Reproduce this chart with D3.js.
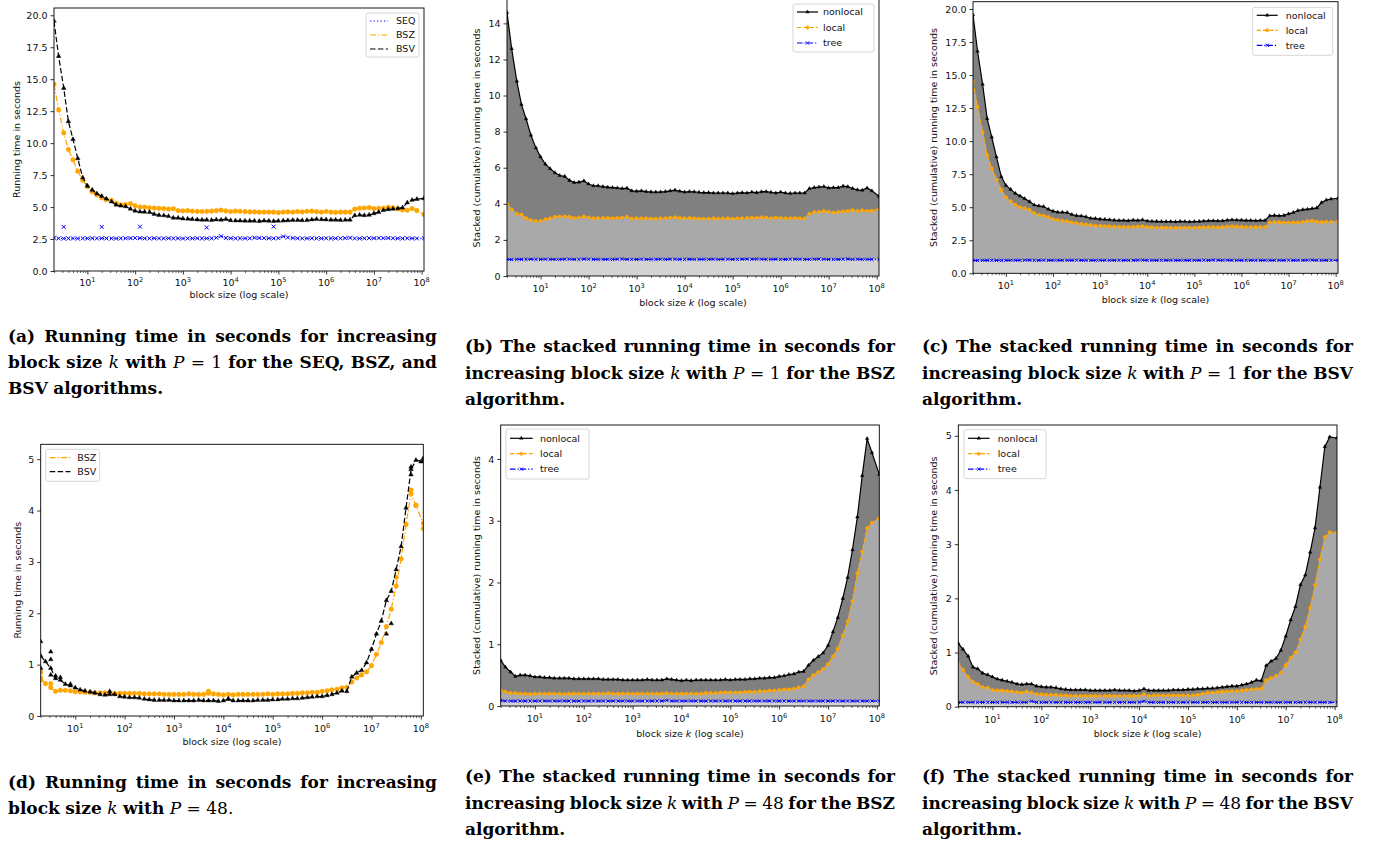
<!DOCTYPE html>
<html>
<head>
<meta charset="utf-8">
<script src="https://cdn.jsdelivr.net/npm/d3@7"></script>
<style>
  body { margin: 0; background: #fff; }
  svg text { font-family: "DejaVu Sans", sans-serif; }
</style>
</head>
<body>
<svg id="fig" width="1375" height="846"></svg>
<script>
// block sizes k (x positions of every measurement)
const blockSizes = [
  2, 2.5, 3.2, 4, 5, 6.3, 8, 10, 12.6, 15.8,
  20, 25, 32, 40, 50, 63, 80, 100, 126, 158,
  200, 251, 316, 398, 501, 631, 794, 1e3, 1.26e3, 1.58e3,
  2e3, 2.51e3, 3.16e3, 3.98e3, 5.01e3, 6.31e3, 7.94e3, 1e4, 1.26e4, 1.58e4,
  2e4, 2.51e4, 3.16e4, 3.98e4, 5.01e4, 6.31e4, 7.94e4, 1e5, 1.26e5, 1.58e5,
  2e5, 2.51e5, 3.16e5, 3.98e5, 5.01e5, 6.31e5, 7.94e5, 1e6, 1.26e6, 1.58e6,
  2e6, 2.51e6, 3.16e6, 3.98e6, 5.01e6, 6.31e6, 7.94e6, 1e7, 1.26e7, 1.58e7,
  2e7, 2.51e7, 3.16e7, 3.98e7, 5.01e7, 6.31e7, 7.94e7, 1.12e8
];

// (a) sequential baseline, P = 1
const seqTime = [
  2.6, 2.55, 2.54, 2.55, 2.55, 2.54, 2.55, 2.55, 2.56, 2.55,
  2.56, 2.55, 2.55, 2.54, 2.55, 2.56, 2.57, 2.58, 2.57, 2.55,
  2.55, 2.56, 2.55, 2.55, 2.56, 2.55, 2.55, 2.54, 2.55, 2.55,
  2.56, 2.55, 2.55, 2.56, 2.6, 2.72, 2.58, 2.56, 2.55, 2.55,
  2.55, 2.56, 2.6, 2.58, 2.57, 2.56, 2.55, 2.57, 2.7, 2.62,
  2.58, 2.56, 2.55, 2.55, 2.56, 2.55, 2.55, 2.56, 2.55, 2.55,
  2.56, 2.57, 2.6, 2.55, 2.55, 2.56, 2.57, 2.56, 2.58, 2.57,
  2.58, 2.56, 2.55, 2.55, 2.56, 2.55, 2.55, 2.56
];
const seqOutlierK = [3.2, 20, 126, 3160, 79400];
const seqOutlierTime = [3.45, 3.45, 3.47, 3.4, 3.47];

// BSZ, P = 1 : cumulative levels (tree, tree+local, tree+local+nonlocal)
const bszP1Tree = [
  0.92, 0.91, 0.92, 0.92, 0.92, 0.93, 0.92, 0.92, 0.93, 0.92,
  0.92, 0.92, 0.93, 0.93, 0.92, 0.92, 0.94, 0.93, 0.92, 0.92,
  0.92, 0.92, 0.92, 0.93, 0.94, 0.92, 0.92, 0.92, 0.93, 0.92,
  0.92, 0.92, 0.93, 0.92, 0.93, 0.93, 0.92, 0.92, 0.93, 0.92,
  0.92, 0.92, 0.92, 0.93, 0.92, 0.92, 0.93, 0.92, 0.92, 0.93,
  0.94, 0.93, 0.94, 0.93, 0.92, 0.92, 0.93, 0.92, 0.92, 0.93,
  0.93, 0.93, 0.92, 0.92, 0.93, 0.94, 0.93, 0.92, 0.92, 0.92,
  0.93, 0.94, 0.92, 0.93, 0.92, 0.92, 0.92, 0.92
];
const bszP1Local = [
  4.0, 3.7, 3.45, 3.4, 3.2, 3.1, 3.05, 3.05, 3.15, 3.2,
  3.28, 3.3, 3.3, 3.28, 3.22, 3.25, 3.3, 3.24, 3.2, 3.22,
  3.22, 3.22, 3.2, 3.22, 3.24, 3.28, 3.18, 3.2, 3.2, 3.2,
  3.18, 3.18, 3.2, 3.2, 3.24, 3.26, 3.22, 3.2, 3.22, 3.2,
  3.18, 3.18, 3.18, 3.2, 3.18, 3.2, 3.2, 3.18, 3.2, 3.2,
  3.22, 3.24, 3.22, 3.26, 3.24, 3.2, 3.24, 3.22, 3.2, 3.2,
  3.22, 3.2, 3.2, 3.45, 3.55, 3.55, 3.6, 3.56, 3.52, 3.55,
  3.58, 3.6, 3.66, 3.6, 3.64, 3.6, 3.62, 3.72
];
const bszP1Total = [
  14.6, 12.6, 10.8, 9.5, 8.7, 7.8, 7.1, 6.6, 6.2, 5.95,
  5.72, 5.57, 5.52, 5.3, 5.18, 5.2, 5.27, 5.1, 5.0, 5.0,
  4.95, 4.92, 4.9, 4.88, 4.85, 4.87, 4.72, 4.7, 4.72, 4.68,
  4.66, 4.65, 4.66, 4.68, 4.72, 4.76, 4.7, 4.65, 4.68, 4.67,
  4.64, 4.62, 4.62, 4.6, 4.6, 4.6, 4.6, 4.57, 4.6, 4.62,
  4.6, 4.65, 4.62, 4.67, 4.68, 4.64, 4.6, 4.65, 4.6, 4.58,
  4.6, 4.6, 4.6, 4.85, 4.9, 4.93, 4.96, 4.88, 4.9, 4.9,
  4.98, 4.95, 4.85, 4.78, 4.75, 4.88, 4.72, 4.42
];

// BSV, P = 1
const bsvP1Tree = [
  0.98, 0.97, 0.98, 0.98, 0.98, 0.98, 0.97, 0.98, 0.98, 0.98,
  0.98, 0.99, 0.99, 0.98, 0.98, 0.99, 0.98, 0.98, 0.98, 0.98,
  0.98, 0.98, 0.99, 0.98, 0.98, 0.98, 0.98, 0.98, 0.98, 0.98,
  0.98, 0.98, 0.98, 0.98, 0.98, 0.99, 1.0, 0.98, 0.98, 0.98,
  0.98, 0.98, 0.98, 0.98, 0.98, 0.98, 0.98, 0.98, 0.98, 0.99,
  0.98, 1.0, 0.99, 0.98, 0.99, 0.98, 0.98, 0.98, 0.98, 0.98,
  0.98, 0.98, 0.98, 0.98, 0.98, 0.98, 0.98, 0.99, 0.98, 0.98,
  0.98, 0.99, 1.0, 0.98, 0.98, 0.98, 0.98, 0.98
];
const bsvP1Local = [
  14.5, 12.6, 10.7, 8.95, 7.95, 7.1, 6.3, 5.75, 5.45, 5.2,
  5.0, 4.92, 4.8, 4.55, 4.42, 4.36, 4.26, 4.1, 4.04, 3.98,
  3.95, 3.85, 3.8, 3.74, 3.7, 3.65, 3.6, 3.6, 3.57, 3.56,
  3.54, 3.52, 3.5, 3.5, 3.52, 3.55, 3.56, 3.5, 3.48, 3.46,
  3.47, 3.46, 3.45, 3.45, 3.46, 3.46, 3.45, 3.46, 3.47, 3.48,
  3.5, 3.5, 3.48, 3.5, 3.54, 3.56, 3.54, 3.52, 3.5, 3.5,
  3.5, 3.5, 3.5, 3.85, 3.88, 3.86, 3.84, 3.85, 3.84, 3.85,
  3.88, 3.95, 3.98, 3.9, 3.88, 3.9, 3.88, 3.95
];
const bsvP1Total = [
  19.55, 16.8, 14.3, 11.7, 10.3, 8.8, 7.3, 6.65, 6.35, 6.05,
  5.85, 5.65, 5.42, 5.17, 5.1, 5.05, 4.85, 4.7, 4.63, 4.62,
  4.6, 4.45, 4.36, 4.34, 4.28, 4.16, 4.15, 4.1, 4.08, 4.05,
  4.02, 4.0, 4.0, 3.98, 4.02, 4.0, 4.05, 3.96, 3.94, 3.93,
  3.92, 3.92, 3.92, 3.9, 3.93, 3.92, 3.9, 3.92, 3.93, 3.95,
  3.97, 3.98, 3.96, 3.97, 4.02, 4.05, 4.03, 4.02, 4.0, 4.0,
  3.98, 4.0, 4.0, 4.35, 4.38, 4.35, 4.38, 4.5, 4.6, 4.75,
  4.82, 4.85, 4.9, 4.95, 5.35, 5.55, 5.62, 5.68
];

// BSZ, P = 48
const bszP48Tree = [
  0.09, 0.08, 0.08, 0.08, 0.08, 0.08, 0.08, 0.08, 0.08, 0.08,
  0.08, 0.08, 0.08, 0.08, 0.08, 0.08, 0.08, 0.08, 0.08, 0.08,
  0.08, 0.08, 0.08, 0.08, 0.08, 0.08, 0.08, 0.08, 0.08, 0.08,
  0.08, 0.08, 0.08, 0.08, 0.09, 0.08, 0.08, 0.08, 0.08, 0.08,
  0.08, 0.08, 0.08, 0.08, 0.08, 0.08, 0.08, 0.08, 0.08, 0.08,
  0.08, 0.08, 0.08, 0.08, 0.08, 0.08, 0.08, 0.08, 0.08, 0.08,
  0.08, 0.08, 0.08, 0.08, 0.08, 0.08, 0.08, 0.08, 0.08, 0.08,
  0.08, 0.08, 0.08, 0.08, 0.08, 0.08, 0.08, 0.08
];
const bszP48Local = [
  0.26, 0.23, 0.21, 0.21, 0.2, 0.2, 0.19, 0.2, 0.2, 0.2,
  0.2, 0.2, 0.2, 0.19, 0.2, 0.2, 0.2, 0.2, 0.2, 0.2,
  0.2, 0.2, 0.21, 0.2, 0.2, 0.2, 0.2, 0.2, 0.2, 0.2,
  0.2, 0.2, 0.2, 0.2, 0.21, 0.2, 0.2, 0.2, 0.2, 0.2,
  0.2, 0.2, 0.21, 0.21, 0.21, 0.22, 0.22, 0.22, 0.22, 0.22,
  0.23, 0.23, 0.23, 0.24, 0.24, 0.25, 0.25, 0.26, 0.27, 0.27,
  0.28, 0.3, 0.32, 0.43, 0.5, 0.55, 0.6, 0.68, 0.8, 0.93,
  1.14, 1.37, 1.7, 2.15, 2.5, 2.88, 2.97, 3.04
];
const bszP48Total = [
  0.74, 0.63, 0.55, 0.48, 0.5, 0.5, 0.49, 0.47, 0.47, 0.46,
  0.46, 0.45, 0.45, 0.45, 0.45, 0.44, 0.44, 0.44, 0.44, 0.44,
  0.44, 0.43, 0.43, 0.43, 0.43, 0.42, 0.42, 0.42, 0.42, 0.42,
  0.43, 0.42, 0.42, 0.42, 0.44, 0.43, 0.42, 0.41, 0.42, 0.41,
  0.42, 0.42, 0.42, 0.42, 0.42, 0.42, 0.43, 0.42, 0.43, 0.43,
  0.43, 0.44, 0.44, 0.45, 0.45, 0.46, 0.46, 0.48, 0.49, 0.51,
  0.52, 0.55, 0.56, 0.66, 0.74, 0.8, 0.86, 0.98, 1.2, 1.43,
  1.74, 2.08, 2.53, 3.06, 3.73, 4.33, 4.1, 3.75
];

// BSV, P = 48
const bsvP48Tree = [
  0.08, 0.08, 0.08, 0.08, 0.08, 0.08, 0.08, 0.08, 0.08, 0.08,
  0.08, 0.08, 0.08, 0.08, 0.08, 0.1, 0.08, 0.08, 0.08, 0.08,
  0.08, 0.08, 0.08, 0.08, 0.08, 0.08, 0.08, 0.08, 0.08, 0.08,
  0.08, 0.08, 0.08, 0.08, 0.08, 0.08, 0.08, 0.08, 0.1, 0.08,
  0.08, 0.08, 0.08, 0.08, 0.08, 0.08, 0.08, 0.08, 0.08, 0.08,
  0.08, 0.08, 0.08, 0.08, 0.08, 0.08, 0.08, 0.08, 0.08, 0.08,
  0.08, 0.08, 0.08, 0.08, 0.08, 0.08, 0.08, 0.08, 0.08, 0.08,
  0.08, 0.08, 0.08, 0.08, 0.08, 0.08, 0.08, 0.08
];
const bsvP48Local = [
  0.8, 0.68, 0.55, 0.46, 0.42, 0.36, 0.35, 0.31, 0.3, 0.3,
  0.29, 0.28, 0.27, 0.26, 0.28, 0.26, 0.23, 0.23, 0.22, 0.22,
  0.22, 0.21, 0.21, 0.2, 0.2, 0.2, 0.2, 0.2, 0.2, 0.2,
  0.2, 0.2, 0.2, 0.2, 0.2, 0.2, 0.2, 0.2, 0.23, 0.2,
  0.21, 0.21, 0.21, 0.21, 0.21, 0.21, 0.21, 0.21, 0.21, 0.22,
  0.24, 0.26, 0.26, 0.27, 0.28, 0.28, 0.29, 0.29, 0.3, 0.31,
  0.32, 0.33, 0.33, 0.49, 0.53, 0.57, 0.63, 0.77, 0.9, 1.0,
  1.24, 1.48, 1.82, 2.25, 2.72, 3.13, 3.22, 3.22
];
const bsvP48Total = [
  1.17, 1.06, 0.93, 0.73, 0.7, 0.62, 0.59, 0.55, 0.51, 0.49,
  0.47, 0.45, 0.42, 0.41, 0.42, 0.42, 0.38, 0.37, 0.36, 0.36,
  0.35, 0.33, 0.32, 0.31, 0.31, 0.31, 0.31, 0.3, 0.3, 0.3,
  0.3, 0.3, 0.31, 0.3, 0.3, 0.3, 0.29, 0.3, 0.33, 0.3,
  0.3, 0.3, 0.3, 0.3, 0.31, 0.31, 0.31, 0.32, 0.32, 0.33,
  0.33, 0.34, 0.34, 0.35, 0.36, 0.37, 0.38, 0.38, 0.4, 0.42,
  0.45, 0.49, 0.48, 0.76, 0.84, 0.89, 1.04, 1.3, 1.6, 1.85,
  2.25, 2.43, 2.85, 3.3, 4.05, 4.8, 4.98, 4.96
];

// (d) single repetitions that stand apart from the mean
const bsvP48RunK = [2, 2, 3.2, 3.2, 3.2, 4, 5, 8, 50, 1.26e4, 2e7, 2.51e7, 6.31e7, 6.31e7, 1e8, 1.12e8];
const bsvP48RunTime = [1.45, 0.93, 1.25, 1.1, 0.8, 0.78, 0.75, 0.62, 0.48, 0.33, 1.6, 1.8, 4.7, 4.85, 4.95, 5.02];
const bszP48RunK = [2, 2, 3.2, 5.01e3, 3.16e7, 6.31e7, 7.94e7, 1.12e8];
const bszP48RunTime = [0.7, 0.85, 0.63, 0.48, 2.7, 4.4, 4.1, 3.65];

const ORANGE = '#ffa500', BLUE = '#0000ff', BLACK = '#000000';
const svg = d3.select('#fig');
svg.append('rect').attr('width', 1375).attr('height', 846).attr('fill', '#fff');

function line(g, xs, ys, x, y, color, dash, w) {
  g.append('path').datum(ys)
    .attr('d', d3.line().x((d, i) => x(xs[i])).y(d => y(d)))
    .attr('fill', 'none').attr('stroke', color)
    .attr('stroke-width', w || 1.2).attr('stroke-dasharray', dash || null);
}
function markers(g, xs, ys, x, y, type, size, color) {
  const stroked = type === d3.symbolTimes;
  g.append('g').selectAll('path').data(xs).join('path')
    .attr('transform', (d, i) => `translate(${x(d)},${y(ys[i])})`)
    .attr('d', d3.symbol().type(type).size(size))
    .attr('fill', stroked ? 'none' : color)
    .attr('stroke', color).attr('stroke-width', stroked ? 1 : 0.4);
}

function drawLines(g, x, y, p) {
  if (p.seq) {
    line(g, blockSizes, seqTime, x, y, BLUE, '1.3,2.2');
    markers(g, blockSizes, seqTime, x, y, d3.symbolTimes, 12, BLUE);
    markers(g, seqOutlierK, seqOutlierTime, x, y, d3.symbolTimes, 12, BLUE);
  }
  line(g, blockSizes, p.bsz, x, y, ORANGE, '6,2,1.3,2');
  markers(g, blockSizes, p.bsz, x, y, d3.symbolCircle, 17, ORANGE);
  if (p.bszRuns) markers(g, p.bszRuns[0], p.bszRuns[1], x, y, d3.symbolCircle, 17, ORANGE);
  line(g, blockSizes, p.bsv, x, y, BLACK, '5.5,2.4');
  markers(g, blockSizes, p.bsv, x, y, d3.symbolTriangle, 9, BLACK);
  if (p.bsvRuns) markers(g, p.bsvRuns[0], p.bsvRuns[1], x, y, d3.symbolTriangle, 9, BLACK);
}

function drawStacked(g, x, y, p) {
  const band = (lo, hi, fill) => g.append('path').datum(hi)
    .attr('d', d3.area().x((d, i) => x(blockSizes[i])).y0((d, i) => y(lo ? lo[i] : 0)).y1(d => y(d)))
    .attr('fill', fill);
  band(null, p.tree, '#d3d3d3');
  band(p.tree, p.local, '#a9a9a9');
  band(p.local, p.total, '#808080');
  line(g, blockSizes, p.total, x, y, BLACK, null, 1.2);
  markers(g, blockSizes, p.total, x, y, d3.symbolTriangle, 5.5, BLACK);
  line(g, blockSizes, p.local, x, y, ORANGE, '4.4,1.9', 1.2);
  markers(g, blockSizes, p.local, x, y, d3.symbolCircle, 9, ORANGE);
  line(g, blockSizes, p.tree, x, y, BLUE, '5.6,1.9,1.2,1.9', 1.2);
  markers(g, blockSizes, p.tree, x, y, d3.symbolTimes, 8, BLUE);
}

const stackedLegend = [
  { label: 'nonlocal', color: BLACK, dash: null, sym: d3.symbolTriangle, size: 5.5 },
  { label: 'local', color: ORANGE, dash: '4.4,1.9', sym: d3.symbolCircle, size: 9 },
  { label: 'tree', color: BLUE, dash: '5.6,1.9,1.2,1.9', sym: d3.symbolTimes, size: 8 }
];
const stackTicks = (n, step) => d3.range(0, n + step / 2, step);

const panels = [
  { key: 'a', kind: 'lines', box: [54, 424, 8, 271], yMax: 20.57, yTicks: stackTicks(20, 2.5), fmt: '.1f',
    seq: true, bsz: bszP1Total, bsv: bsvP1Total, ylabel: 'Running time in seconds', stackedLabel: false,
    xlabY: 295, ylabX: 17, tickY: 15,
    legend: { x: 366, y: 13, w: 53, h: 44, top: 8, step: 14, hw: 18, tx: 30,
      items: [{ label: 'SEQ', color: BLUE, dash: '1.3,2.2' }, { label: 'BSZ', color: ORANGE, dash: '6,2,1.3,2' }, { label: 'BSV', color: BLACK, dash: '5.5,2.4' }] } },
  { key: 'b', kind: 'stacked', box: [507, 879, -1, 276], yMax: 15.35, yTicks: stackTicks(14, 2), fmt: 'd',
    tree: bszP1Tree, local: bszP1Local, total: bszP1Total, stackedLabel: true,
    xlabY: 303, ylabX: 477, tickY: 16,
    legend: { x: 793, y: 4, w: 81, h: 48, top: 8, step: 15.5, hw: 21, tx: 30, items: stackedLegend } },
  { key: 'c', kind: 'stacked', box: [973, 1338, 1.7, 273.3], yMax: 20.55, yTicks: stackTicks(20, 2.5), fmt: '.1f',
    tree: bsvP1Tree, local: bsvP1Local, total: bsvP1Total, stackedLabel: true,
    xlabY: 300, ylabX: 934, tickY: 16,
    legend: { x: 1252.7, y: 7.3, w: 80, h: 48, top: 8, step: 15, hw: 21, tx: 33, items: stackedLegend } },
  { key: 'd', kind: 'lines', box: [40.7, 423.3, 444.3, 716], yMax: 5.29, yTicks: stackTicks(5, 1), fmt: 'd',
    seq: false, bsz: bszP48Total, bsv: bsvP48Total, bszRuns: [bszP48RunK, bszP48RunTime], bsvRuns: [bsvP48RunK, bsvP48RunTime],
    ylabel: 'Running time in seconds', stackedLabel: false,
    xlabY: 741.7, ylabX: 18, tickY: 16,
    legend: { x: 45.7, y: 449.3, w: 54, h: 32, top: 8.4, step: 14, hw: 20.7, tx: 31.6,
      items: [{ label: 'BSZ', color: ORANGE, dash: '6,2,1.3,2' }, { label: 'BSV', color: BLACK, dash: '5.5,2.4' }] } },
  { key: 'e', kind: 'stacked', box: [500.7, 879.3, 425, 706], yMax: 4.55, yTicks: stackTicks(4, 1), fmt: 'd',
    tree: bszP48Tree, local: bszP48Local, total: bszP48Total, stackedLabel: true,
    xlabY: 734, ylabX: 476.7, tickY: 16,
    legend: { x: 506, y: 429, w: 83, h: 50, top: 9.3, step: 15.4, hw: 22.7, tx: 34, items: stackedLegend } },
  { key: 'f', kind: 'stacked', box: [958.3, 1337, 425, 706.7], yMax: 5.2, yTicks: stackTicks(5, 1), fmt: 'd',
    tree: bsvP48Tree, local: bsvP48Local, total: bsvP48Total, stackedLabel: true,
    xlabY: 734, ylabX: 934, tickY: 16,
    legend: { x: 964, y: 429.7, w: 82, h: 49, top: 8.6, step: 15.4, hw: 21.6, tx: 33.7, items: stackedLegend } }
];

function drawPanel(p) {
  const [L, R, T, B] = p.box;
  const x = d3.scaleLog().domain([2, 1.12e8]).range([L, R]);
  const y = d3.scaleLinear().domain([0, p.yMax]).range([B, T]);
  const g = svg.append('g');

  svg.append('clipPath').attr('id', 'clip-' + p.key)
    .append('rect').attr('x', L).attr('y', T).attr('width', R - L).attr('height', B - T);
  const plot = g.append('g').attr('clip-path', `url(#clip-${p.key})`);
  if (p.kind === 'stacked') drawStacked(plot, x, y, p); else drawLines(plot, x, y, p);

  // x axis: minor and major ticks of the log scale
  const majors = d3.range(1, 9).map(e => Math.pow(10, e));
  const minors = [];
  d3.range(0, 9).forEach(e => d3.range(2, 10).forEach(m => {
    const v = m * Math.pow(10, e);
    if (v >= 2 && v <= 1.12e8) minors.push(v);
  }));
  g.append('g').attr('transform', `translate(0,${B})`)
    .call(d3.axisBottom(x).tickValues(minors).tickSize(2).tickSizeOuter(0).tickFormat(''))
    .call(a => a.select('.domain').remove())
    .selectAll('line').attr('stroke-width', 0.6);
  g.append('g').attr('transform', `translate(0,${B})`)
    .call(d3.axisBottom(x).tickValues(majors).tickSize(3.5).tickSizeOuter(0).tickFormat(''))
    .call(a => a.select('.domain').remove())
    .selectAll('line').attr('stroke-width', 0.8);
  majors.forEach((v, i) => {
    const t = g.append('text').attr('x', x(v)).attr('y', B + p.tickY)
      .attr('text-anchor', 'middle').attr('font-size', 9.5).attr('fill', '#111');
    t.append('tspan').text('10');
    t.append('tspan').attr('font-size', 6.7).attr('dy', -4.2).text(i + 1);
  });

  // y axis
  g.append('g').attr('transform', `translate(${L},0)`)
    .call(d3.axisLeft(y).tickValues(p.yTicks).tickSize(3.5).tickSizeOuter(0).tickPadding(3).tickFormat(d3.format(p.fmt)))
    .call(a => a.select('.domain').remove())
    .call(a => a.selectAll('line').attr('stroke-width', 0.8))
    .call(a => a.selectAll('text').attr('font-family', 'DejaVu Sans').attr('font-size', 9.5).attr('fill', '#111'));

  g.append('rect').attr('x', L).attr('y', T).attr('width', R - L).attr('height', B - T)
    .attr('fill', 'none').attr('stroke', '#000').attr('stroke-width', 0.9);

  // axis labels
  const xl = g.append('text').attr('x', (L + R) / 2).attr('y', p.xlabY).attr('dy', '0.35em')
    .attr('text-anchor', 'middle').attr('font-size', 9.5).attr('fill', '#111');
  if (p.stackedLabel) {
    xl.append('tspan').text('block size ');
    xl.append('tspan').attr('font-style', 'italic').text('k');
    xl.append('tspan').text(' (log scale)');
  } else {
    xl.text('block size (log scale)');
  }
  g.append('text').attr('transform', `translate(${p.ylabX},${(Math.max(T, 0) + B) / 2}) rotate(-90)`)
    .attr('dy', '0.35em').attr('text-anchor', 'middle').attr('font-size', 9.5).attr('fill', '#111')
    .text(p.stackedLabel ? 'Stacked (cumulative) running time in seconds' : p.ylabel);

  // legend
  const lg = p.legend;
  const leg = g.append('g');
  leg.append('rect').attr('x', lg.x).attr('y', lg.y).attr('width', lg.w).attr('height', lg.h)
    .attr('rx', 2).attr('fill', '#fff').attr('fill-opacity', 0.8).attr('stroke', '#cccccc').attr('stroke-width', 0.8);
  lg.items.forEach((it, i) => {
    const cy = lg.y + lg.top + i * lg.step;
    const x0 = lg.x + 4;
    leg.append('line').attr('x1', x0).attr('x2', x0 + lg.hw).attr('y1', cy).attr('y2', cy)
      .attr('stroke', it.color).attr('stroke-width', 1.2).attr('stroke-dasharray', it.dash);
    if (it.sym) {
      const stroked = it.sym === d3.symbolTimes;
      leg.append('path').attr('transform', `translate(${x0 + lg.hw / 2},${cy})`)
        .attr('d', d3.symbol().type(it.sym).size(it.size))
        .attr('fill', stroked ? 'none' : it.color).attr('stroke', it.color).attr('stroke-width', stroked ? 1 : 0.4);
    }
    leg.append('text').attr('x', lg.x + lg.tx).attr('y', cy).attr('dy', '0.35em')
      .attr('font-size', 9.5).attr('fill', '#111').text(it.label);
  });
}

panels.forEach(drawPanel);

// sub-figure captions (justified, bold serif with italic math)
const captions = [
  { x: 8, y: 341.7, w: 429, lines: ['(a) Running time in seconds for increasing', 'block size _k with _P ~= ~1 for the SEQ, BSZ, and', 'BSV algorithms.'] },
  { x: 465, y: 352.3, w: 430, lines: ['(b) The stacked running time in seconds for', 'increasing block size _k with _P ~= ~1 for the BSZ', 'algorithm.'] },
  { x: 922, y: 352.3, w: 431, lines: ['(c) The stacked running time in seconds for', 'increasing block size _k with _P ~= ~1 for the BSV', 'algorithm.'] },
  { x: 8, y: 788, w: 429, lines: ['(d) Running time in seconds for increasing', 'block size _k with _P ~= ~48.'] },
  { x: 465, y: 782.3, w: 430, lines: ['(e) The stacked running time in seconds for', 'increasing block size _k with _P ~= ~48 for the BSZ', 'algorithm.'] },
  { x: 922, y: 782.3, w: 431, lines: ['(f) The stacked running time in seconds for', 'increasing block size _k with _P ~= ~48 for the BSV', 'algorithm.'] }
];

function caption(c) {
  const g = svg.append('g').attr('fill', '#000');
  let fs = 17;
  const build = () => {
    g.selectAll('*').remove();
    return c.lines.map((ln, li) => ln.split(' ').map(tok => {
      let style = 'b', t = tok;
      if (tok[0] === '_') { style = 'i'; t = tok.slice(1); }
      else if (tok[0] === '~') { style = 'r'; t = tok.slice(1); }
      const el = g.append('text').attr('y', c.y + li * 26.2)
        .style('font-family', '"DejaVu Serif", serif').attr('font-size', fs)
        .attr('font-weight', style === 'b' ? 'bold' : 'normal')
        .attr('font-style', style === 'i' ? 'italic' : 'normal').text(t);
      return { el, w: el.node().getComputedTextLength() };
    }));
  };
  let rows = build();
  while (fs > 14 && rows.slice(0, -1).some(r => (c.w - d3.sum(r, d => d.w)) / (r.length - 1) < 4)) {
    fs -= 0.25;
    rows = build();
  }
  rows.forEach((r, li) => {
    const last = li === rows.length - 1;
    const gap = last ? fs * 0.32 : (c.w - d3.sum(r, d => d.w)) / (r.length - 1);
    let cx = c.x;
    r.forEach(d => { d.el.attr('x', cx); cx += d.w + gap; });
  });
}
captions.forEach(caption);
</script>
</body>
</html>
